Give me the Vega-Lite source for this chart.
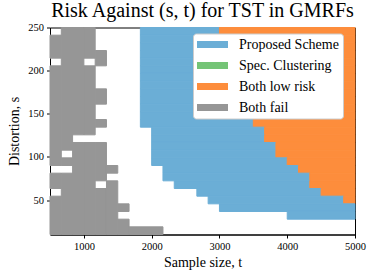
{
 "$schema": "https://vega.github.io/schema/vega-lite/v6.json",
 "autosize": "none",
 "width": 305,
 "height": 207,
 "padding": {"left": 50, "top": 27.5, "right": 19, "bottom": 46},
 "background": "white",
 "title": {"text": "Risk Against (s, t) for TST in GMRFs", "font": "Liberation Serif", "fontSize": 20, "fontWeight": "normal", "color": "black", "offset": 2, "anchor": "middle"},
 "data": {"values": [
  {"s0": 214.44, "s1": 241.11, "t0": 500, "t1": 666.7, "c": "Both fail"},
  {"s0": 90, "s1": 205.56, "t0": 500, "t1": 666.7, "c": "Both fail"},
  {"s0": 63.33, "s1": 81.11, "t0": 500, "t1": 666.7, "c": "Both fail"},
  {"s0": 10, "s1": 54.44, "t0": 500, "t1": 666.7, "c": "Both fail"},
  {"s0": 107.78, "s1": 250, "t0": 666.7, "t1": 833.3, "c": "Both fail"},
  {"s0": 90, "s1": 98.89, "t0": 666.7, "t1": 833.3, "c": "Both fail"},
  {"s0": 10, "s1": 81.11, "t0": 666.7, "t1": 833.3, "c": "Both fail"},
  {"s0": 125.56, "s1": 250, "t0": 833.3, "t1": 1000, "c": "Both fail"},
  {"s0": 10, "s1": 116.67, "t0": 833.3, "t1": 1000, "c": "Both fail"},
  {"s0": 214.44, "s1": 250, "t0": 1000, "t1": 1166.7, "c": "Both fail"},
  {"s0": 125.56, "s1": 205.56, "t0": 1000, "t1": 1166.7, "c": "Both fail"},
  {"s0": 10, "s1": 116.67, "t0": 1000, "t1": 1166.7, "c": "Both fail"},
  {"s0": 205.56, "s1": 223.33, "t0": 1166.7, "t1": 1333.3, "c": "Both fail"},
  {"s0": 161.11, "s1": 178.89, "t0": 1166.7, "t1": 1333.3, "c": "Both fail"},
  {"s0": 134.44, "s1": 143.33, "t0": 1166.7, "t1": 1333.3, "c": "Both fail"},
  {"s0": 72.22, "s1": 116.67, "t0": 1166.7, "t1": 1333.3, "c": "Both fail"},
  {"s0": 10, "s1": 63.33, "t0": 1166.7, "t1": 1333.3, "c": "Both fail"},
  {"s0": 81.11, "s1": 90, "t0": 1333.3, "t1": 1500, "c": "Both fail"},
  {"s0": 10, "s1": 72.22, "t0": 1333.3, "t1": 1500, "c": "Both fail"},
  {"s0": 36.67, "s1": 45.56, "t0": 1500, "t1": 1666.7, "c": "Both fail"},
  {"s0": 10, "s1": 27.78, "t0": 1500, "t1": 1666.7, "c": "Both fail"},
  {"s0": 10, "s1": 18.89, "t0": 1666.7, "t1": 2166.7, "c": "Both fail"},
  {"s0": 241.11, "s1": 250, "t0": 1833.3, "t1": 3000, "c": "Proposed Scheme"},
  {"s0": 241.11, "s1": 250, "t0": 3000, "t1": 5000, "c": "Both low risk"},
  {"s0": 232.22, "s1": 241.11, "t0": 1833.3, "t1": 3000, "c": "Proposed Scheme"},
  {"s0": 232.22, "s1": 241.11, "t0": 3000, "t1": 5000, "c": "Both low risk"},
  {"s0": 223.33, "s1": 232.22, "t0": 1833.3, "t1": 3000, "c": "Proposed Scheme"},
  {"s0": 223.33, "s1": 232.22, "t0": 3000, "t1": 5000, "c": "Both low risk"},
  {"s0": 214.44, "s1": 223.33, "t0": 1833.3, "t1": 3000, "c": "Proposed Scheme"},
  {"s0": 214.44, "s1": 223.33, "t0": 3000, "t1": 5000, "c": "Both low risk"},
  {"s0": 205.56, "s1": 214.44, "t0": 1833.3, "t1": 3166.7, "c": "Proposed Scheme"},
  {"s0": 205.56, "s1": 214.44, "t0": 3166.7, "t1": 5000, "c": "Both low risk"},
  {"s0": 196.67, "s1": 205.56, "t0": 1833.3, "t1": 3166.7, "c": "Proposed Scheme"},
  {"s0": 196.67, "s1": 205.56, "t0": 3166.7, "t1": 5000, "c": "Both low risk"},
  {"s0": 187.78, "s1": 196.67, "t0": 1833.3, "t1": 3166.7, "c": "Proposed Scheme"},
  {"s0": 187.78, "s1": 196.67, "t0": 3166.7, "t1": 5000, "c": "Both low risk"},
  {"s0": 178.89, "s1": 187.78, "t0": 1833.3, "t1": 3333.3, "c": "Proposed Scheme"},
  {"s0": 178.89, "s1": 187.78, "t0": 3333.3, "t1": 5000, "c": "Both low risk"},
  {"s0": 170, "s1": 178.89, "t0": 1833.3, "t1": 3333.3, "c": "Proposed Scheme"},
  {"s0": 170, "s1": 178.89, "t0": 3333.3, "t1": 5000, "c": "Both low risk"},
  {"s0": 161.11, "s1": 170, "t0": 1833.3, "t1": 3333.3, "c": "Proposed Scheme"},
  {"s0": 161.11, "s1": 170, "t0": 3333.3, "t1": 5000, "c": "Both low risk"},
  {"s0": 152.22, "s1": 161.11, "t0": 1833.3, "t1": 3333.3, "c": "Proposed Scheme"},
  {"s0": 152.22, "s1": 161.11, "t0": 3333.3, "t1": 5000, "c": "Both low risk"},
  {"s0": 143.33, "s1": 152.22, "t0": 1833.3, "t1": 3333.3, "c": "Proposed Scheme"},
  {"s0": 143.33, "s1": 152.22, "t0": 3333.3, "t1": 5000, "c": "Both low risk"},
  {"s0": 134.44, "s1": 143.33, "t0": 1833.3, "t1": 3500, "c": "Proposed Scheme"},
  {"s0": 134.44, "s1": 143.33, "t0": 3500, "t1": 5000, "c": "Both low risk"},
  {"s0": 125.56, "s1": 134.44, "t0": 2000, "t1": 3666.7, "c": "Proposed Scheme"},
  {"s0": 125.56, "s1": 134.44, "t0": 3666.7, "t1": 5000, "c": "Both low risk"},
  {"s0": 116.67, "s1": 125.56, "t0": 2000, "t1": 3666.7, "c": "Proposed Scheme"},
  {"s0": 116.67, "s1": 125.56, "t0": 3666.7, "t1": 5000, "c": "Both low risk"},
  {"s0": 107.78, "s1": 116.67, "t0": 2000, "t1": 3833.3, "c": "Proposed Scheme"},
  {"s0": 107.78, "s1": 116.67, "t0": 3833.3, "t1": 5000, "c": "Both low risk"},
  {"s0": 98.89, "s1": 107.78, "t0": 2000, "t1": 3833.3, "c": "Proposed Scheme"},
  {"s0": 98.89, "s1": 107.78, "t0": 3833.3, "t1": 5000, "c": "Both low risk"},
  {"s0": 90, "s1": 98.89, "t0": 2000, "t1": 4000, "c": "Proposed Scheme"},
  {"s0": 90, "s1": 98.89, "t0": 4000, "t1": 5000, "c": "Both low risk"},
  {"s0": 81.11, "s1": 90, "t0": 2166.7, "t1": 4166.7, "c": "Proposed Scheme"},
  {"s0": 81.11, "s1": 90, "t0": 4166.7, "t1": 5000, "c": "Both low risk"},
  {"s0": 72.22, "s1": 81.11, "t0": 2166.7, "t1": 4333.3, "c": "Proposed Scheme"},
  {"s0": 72.22, "s1": 81.11, "t0": 4333.3, "t1": 5000, "c": "Both low risk"},
  {"s0": 63.33, "s1": 72.22, "t0": 2333.3, "t1": 4333.3, "c": "Proposed Scheme"},
  {"s0": 63.33, "s1": 72.22, "t0": 4333.3, "t1": 5000, "c": "Both low risk"},
  {"s0": 54.44, "s1": 63.33, "t0": 2666.7, "t1": 4500, "c": "Proposed Scheme"},
  {"s0": 54.44, "s1": 63.33, "t0": 4500, "t1": 5000, "c": "Both low risk"},
  {"s0": 45.56, "s1": 54.44, "t0": 2833.3, "t1": 4833.3, "c": "Proposed Scheme"},
  {"s0": 45.56, "s1": 54.44, "t0": 4833.3, "t1": 5000, "c": "Both low risk"},
  {"s0": 36.67, "s1": 45.56, "t0": 3000, "t1": 5000, "c": "Proposed Scheme"},
  {"s0": 27.78, "s1": 36.67, "t0": 4000, "t1": 5000, "c": "Proposed Scheme"}
 ]},
 "mark": {"type": "rect", "strokeWidth": 1, "strokeOpacity": 1, "opacity": 1, "fillOpacity": 1},
 "encoding": {
  "x": {"field": "t0", "type": "quantitative", "title": "Sample size, t",
        "scale": {"domain": [500, 5000], "nice": false, "zero": false},
        "axis": {"values": [1000, 2000, 3000, 4000, 5000], "format": "d", "labelFlush": false, "labelOverlap": false, "titlePadding": 4}},
  "x2": {"field": "t1"},
  "y": {"field": "s0", "type": "quantitative", "title": "Distortion, s",
        "scale": {"domain": [10, 250], "nice": false, "zero": false},
        "axis": {"values": [50, 100, 150, 200, 250], "format": "d", "labelOverlap": false, "titlePadding": 6}},
  "y2": {"field": "s1"},
  "color": {"field": "c", "type": "nominal",
            "scale": {"domain": ["Proposed Scheme", "Spec. Clustering", "Both low risk", "Both fail"],
                      "range": ["#6baed6", "#74c476", "#fd8d3c", "#969696"]},
            "legend": {"title": null, "orient": "none", "legendX": 143, "legendY": 6,
                       "symbolType": "M-1,-0.23H1V0.23H-1Z", "symbolSize": 961, "symbolStrokeWidth": 0,
                       "clipHeight": 14, "rowPadding": 7,
                       "labelFont": "Liberation Serif", "labelFontSize": 14, "labelColor": "black", "labelOffset": 11,
                       "fillColor": "white", "strokeColor": "#cccccc", "cornerRadius": 3, "padding": 4}},
  "stroke": {"field": "c", "type": "nominal", "legend": null,
            "scale": {"domain": ["Proposed Scheme", "Spec. Clustering", "Both low risk", "Both fail"],
                      "range": ["#6baed6", "#74c476", "#fd8d3c", "#969696"]}}
 },
 "config": {
  "view": {"stroke": "black", "strokeWidth": 1},
  "mark": {"opacity": 1},
  "axis": {"grid": false, "domainColor": "black", "tickColor": "black", "tickSize": 3.5, "labelColor": "black",
           "labelFont": "Liberation Serif", "labelFontSize": 10.5, "labelPadding": 3,
           "titleFont": "Liberation Serif", "titleFontSize": 14, "titleFontWeight": "normal", "titleColor": "black"}
 }
}
